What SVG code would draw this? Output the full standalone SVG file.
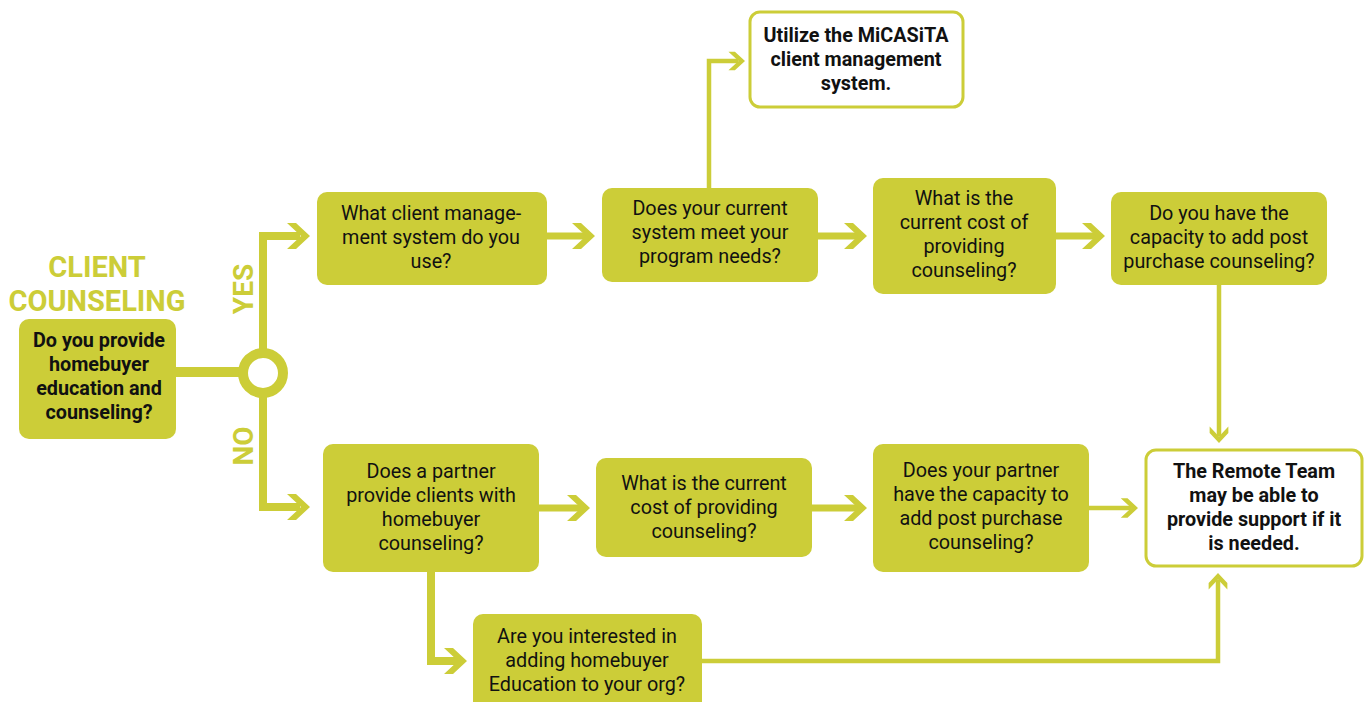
<svg xmlns="http://www.w3.org/2000/svg" xmlns:xlink="http://www.w3.org/1999/xlink" width="1364" height="702" viewBox="0 0 1364 702">
<style>
.box{fill:#cccd38;}
.wbox{fill:#ffffff;stroke:#cccd38;stroke-width:3;}
.t{font-family:Roboto,"Liberation Sans",sans-serif;font-size:19.8px;fill:#111111;text-anchor:middle;}
.b{font-weight:bold;}
.title{font-family:Roboto,"Liberation Sans",sans-serif;font-size:29px;font-weight:bold;fill:#cccd38;text-anchor:middle;}
.ln{fill:none;stroke:#cccd38;stroke-width:7;}
.thin{fill:none;stroke:#cccd38;stroke-width:4.5;}
.head{fill:#cccd38;}
</style>
<defs>
<path id="chev" d="M-23,-13 L-14,-13 L0,0 L-14,13 L-23,13 L-9,0 Z"/>
</defs>
<rect width="1364" height="702" fill="#ffffff"/>

<g id="connectors">
  <path class="ln" d="M176,372 H244" style="stroke-width:10"/>
  <path class="ln" d="M263,353 V236 H300" style="stroke-width:8"/>
  <path class="ln" d="M263,393 V507 H300" style="stroke-width:8"/>
  <circle cx="263" cy="373" r="20" fill="#ffffff" stroke="#cccd38" stroke-width="10"/>
  <path class="ln" d="M547,236 H587"/>
  <path class="ln" d="M818,236 H859"/>
  <path class="ln" d="M1056,236 H1097"/>
  <path class="thin" d="M709,188 V61 H738"/>
  <path class="thin" d="M1219,285 V436"/>
  <path class="ln" d="M539,508 H582"/>
  <path class="ln" d="M812,508 H859"/>
  <path class="thin" d="M1089,508 H1131"/>
  <path class="ln" d="M431,572 V661 H460" style="stroke-width:8"/>
  <path class="thin" d="M702,661 H1218 V580"/>
  <g class="head">
    <use xlink:href="#chev" transform="translate(310,236)"/>
    <use xlink:href="#chev" transform="translate(310,507)"/>
    <use xlink:href="#chev" transform="translate(595,236)"/>
    <use xlink:href="#chev" transform="translate(867,236)"/>
    <use xlink:href="#chev" transform="translate(1105,236)"/>
    <use xlink:href="#chev" transform="translate(745,61) scale(0.72)"/>
    <use xlink:href="#chev" transform="translate(1219,443) rotate(90) scale(0.72)"/>
    <use xlink:href="#chev" transform="translate(590,508)"/>
    <use xlink:href="#chev" transform="translate(867,508)"/>
    <use xlink:href="#chev" transform="translate(1138,508) scale(0.75)"/>
    <use xlink:href="#chev" transform="translate(467,661)"/>
    <use xlink:href="#chev" transform="translate(1218,573) rotate(-90) scale(0.72)"/>
  </g>
  <text class="title" transform="translate(253,289) rotate(-90)" style="font-size:28px">YES</text>
  <text class="title" transform="translate(253,446) rotate(-90)" style="font-size:28px">NO</text>
</g>

<g id="title">
  <text class="title" x="97" y="277">CLIENT</text>
  <text class="title" x="97" y="311">COUNSELING</text>
</g>

<g id="start">
  <rect class="box" x="19" y="319" width="157" height="120" rx="10"/>
  <text class="t b" x="99" y="347">Do you provide</text>
  <text class="t b" x="99" y="371">homebuyer</text>
  <text class="t b" x="99" y="395">education and</text>
  <text class="t b" x="99" y="419">counseling?</text>
</g>

<g id="n1">
  <rect class="box" x="317" y="192" width="230" height="93" rx="10"/>
  <text class="t" x="431" y="220">What client manage-</text>
  <text class="t" x="431" y="244">ment system do you</text>
  <text class="t" x="431" y="268">use?</text>
</g>

<g id="n2">
  <rect class="box" x="602" y="188" width="216" height="94" rx="10"/>
  <text class="t" x="710" y="215">Does your current</text>
  <text class="t" x="710" y="239">system meet your</text>
  <text class="t" x="710" y="263">program needs?</text>
</g>

<g id="micasita">
  <rect class="wbox" x="750" y="12" width="213" height="95" rx="10"/>
  <text class="t b" x="856" y="42">Utilize the MiCASiTA</text>
  <text class="t b" x="856" y="66">client management</text>
  <text class="t b" x="856" y="90">system.</text>
</g>

<g id="n3">
  <rect class="box" x="873" y="178" width="183" height="116" rx="10"/>
  <text class="t" x="964" y="205">What is the</text>
  <text class="t" x="964" y="229">current cost of</text>
  <text class="t" x="964" y="253">providing</text>
  <text class="t" x="964" y="277">counseling?</text>
</g>

<g id="n4">
  <rect class="box" x="1111" y="192" width="216" height="93" rx="10"/>
  <text class="t" x="1219" y="220">Do you have the</text>
  <text class="t" x="1219" y="244">capacity to add post</text>
  <text class="t" x="1219" y="268">purchase counseling?</text>
</g>

<g id="remote">
  <rect class="wbox" x="1146" y="450" width="216" height="116" rx="10"/>
  <text class="t b" x="1254" y="478">The Remote Team</text>
  <text class="t b" x="1254" y="502">may be able to</text>
  <text class="t b" x="1254" y="526">provide support if it</text>
  <text class="t b" x="1254" y="550">is needed.</text>
</g>

<g id="n5">
  <rect class="box" x="323" y="444" width="216" height="128" rx="10"/>
  <text class="t" x="431" y="478">Does a partner</text>
  <text class="t" x="431" y="502">provide clients with</text>
  <text class="t" x="431" y="526">homebuyer</text>
  <text class="t" x="431" y="550">counseling?</text>
</g>

<g id="n6">
  <rect class="box" x="596" y="458" width="216" height="99" rx="10"/>
  <text class="t" x="704" y="490">What is the current</text>
  <text class="t" x="704" y="514">cost of providing</text>
  <text class="t" x="704" y="538">counseling?</text>
</g>

<g id="n7">
  <rect class="box" x="873" y="444" width="216" height="128" rx="10"/>
  <text class="t" x="981" y="477">Does your partner</text>
  <text class="t" x="981" y="501">have the capacity to</text>
  <text class="t" x="981" y="525">add post purchase</text>
  <text class="t" x="981" y="549">counseling?</text>
</g>

<g id="n8">
  <rect class="box" x="473" y="614" width="229" height="100" rx="10"/>
  <text class="t" x="587" y="643">Are you interested in</text>
  <text class="t" x="587" y="667">adding homebuyer</text>
  <text class="t" x="587" y="691">Education to your org?</text>
</g>
</svg>
